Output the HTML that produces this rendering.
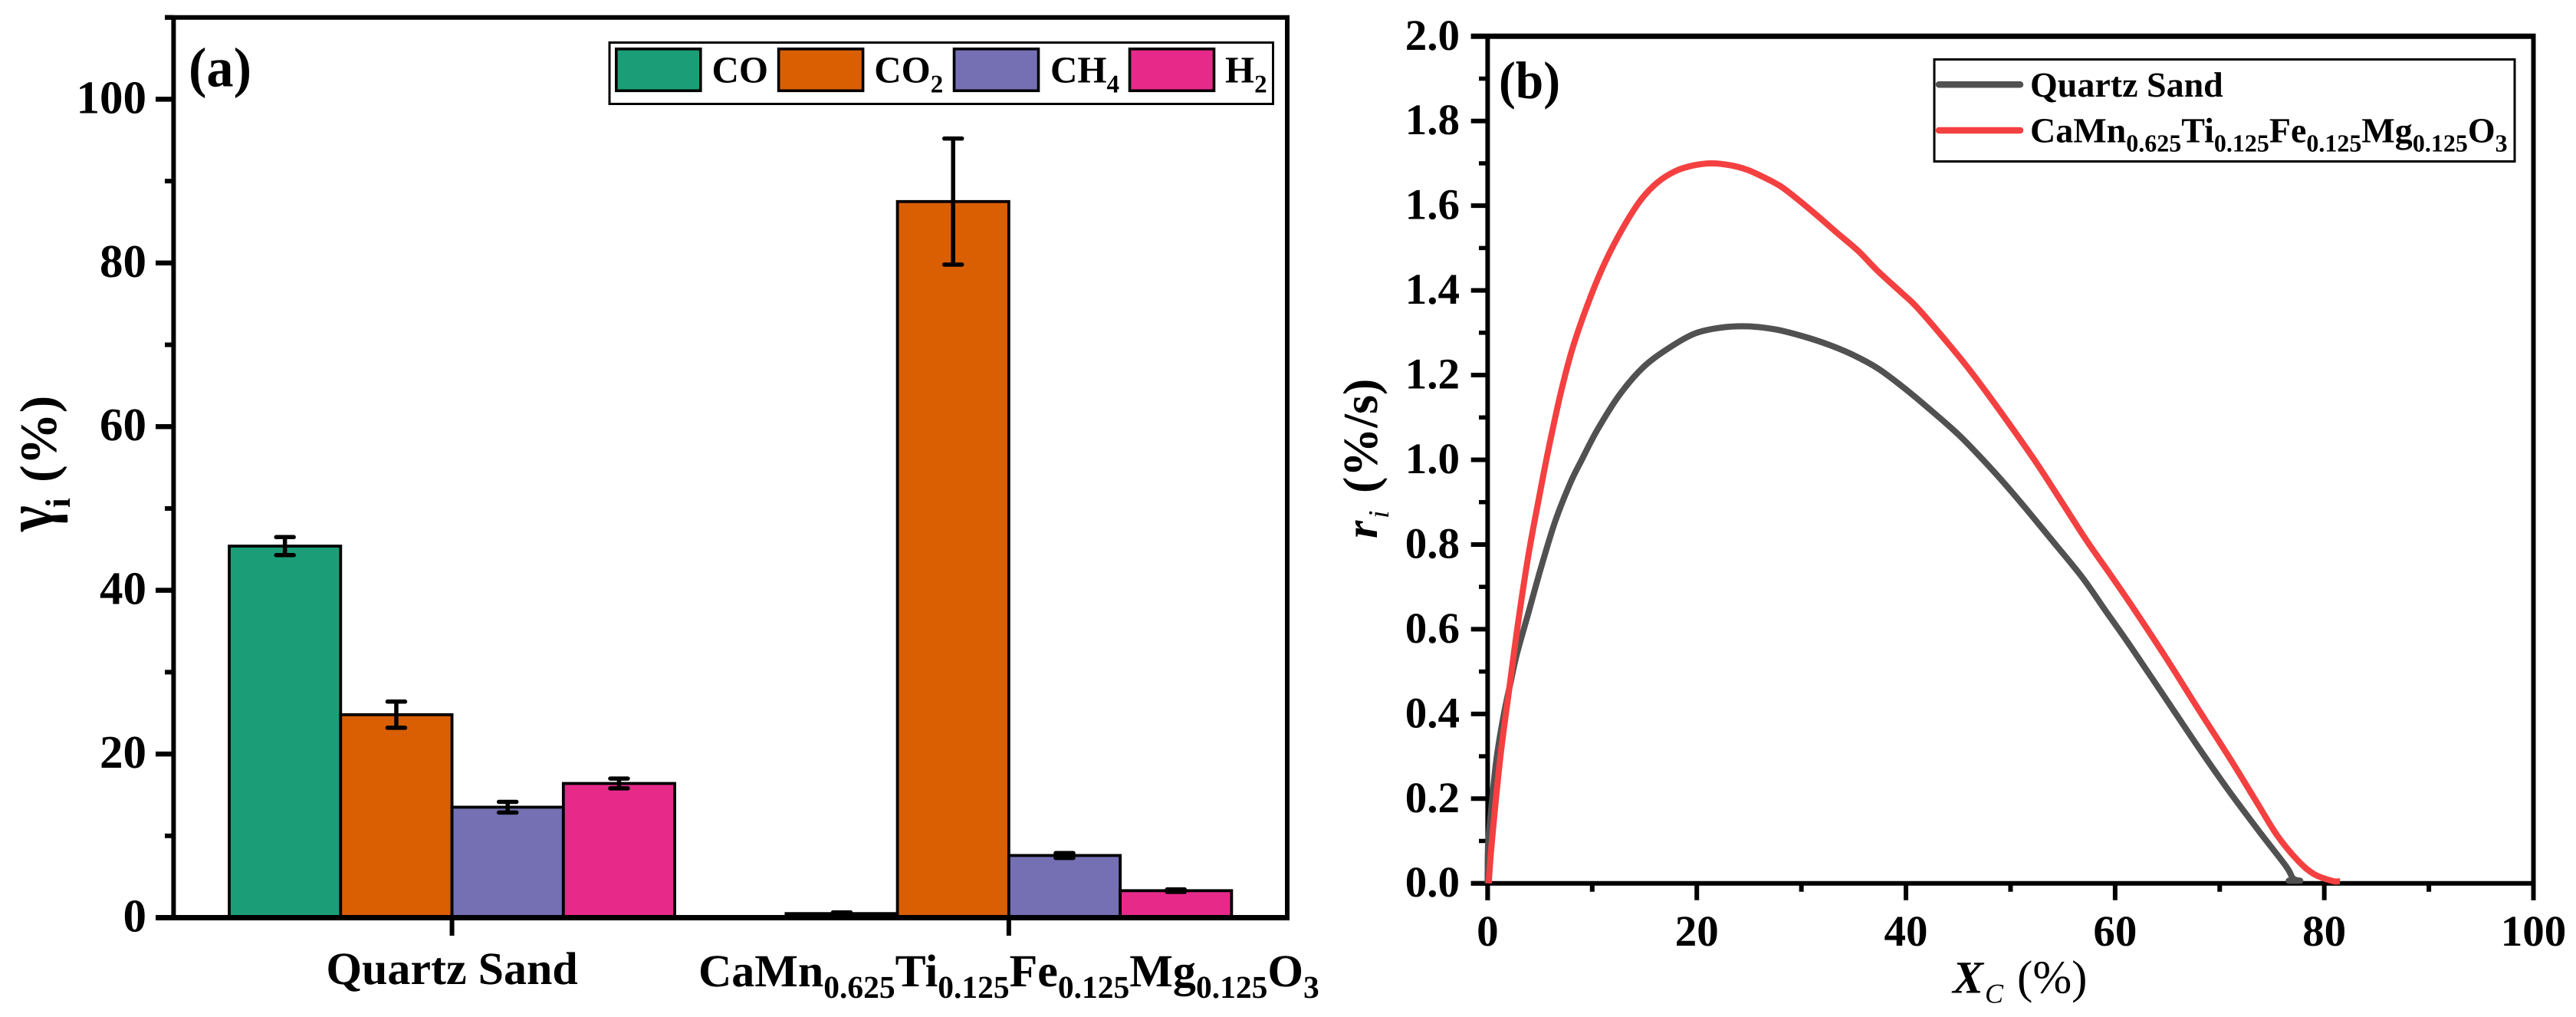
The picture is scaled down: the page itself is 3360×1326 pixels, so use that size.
<!DOCTYPE html>
<html lang="en">
<head>
<meta charset="utf-8">
<title>Gas selectivity and reaction rate charts</title>
<style>
html,body{margin:0;padding:0;background:#fff;}
svg{display:block;font-family:"Liberation Serif",serif;text-rendering:geometricPrecision;}
text{fill:#000;}
.b{font-weight:bold;}
</style>
</head>
<body>
<svg id="fig" xmlns="http://www.w3.org/2000/svg" width="3360" height="1326" viewBox="0 0 3360 1326">
  <rect x="0" y="0" width="3360" height="1326" fill="#fff"/>
  <g id="panelA"></g>
  <g id="panelB"></g>

  <text class="b" x="246" y="112.7" font-size="73" textLength="82" lengthAdjust="spacingAndGlyphs">(a)</text>
  <text class="b" x="1955" y="128" font-size="69" textLength="80" lengthAdjust="spacingAndGlyphs">(b)</text>

  <g transform="translate(73,693) rotate(-90)">
    <text class="b" transform="translate(0,-4) scale(0.95,1.2)" x="0" y="0" font-size="76">γ</text>
    <text class="b" x="31" y="18" font-size="46">i</text>
    <text class="b" x="64" y="0" font-size="68">(%)</text>
  </g>

  <g transform="translate(1796,702) rotate(-90)">
    <text class="b" font-style="italic" x="0" y="0" font-size="60">r</text>
    <text font-style="italic" x="26" y="15" font-size="38">i</text>
    <text class="b" x="59" y="0" font-size="64">(%/s)</text>
  </g>

  <g>
    <text class="b" font-style="italic" x="2547" y="1294.3" font-size="60">X</text>
    <text font-style="italic" x="2589" y="1307.7" font-size="36">C</text>
    <text x="2631" y="1294.3" font-size="61">(%)</text>
  </g>

  <g>
    <rect x="795" y="55.5" width="865.5" height="80" fill="#fff" stroke="#000" stroke-width="3"/>
    <rect x="803.8" y="63.8" width="110" height="54.5" fill="#1B9E77" stroke="#000" stroke-width="3.6"/>
    <text class="b" x="928.5" y="107.3" font-size="49">CO</text>
    <rect x="1015.6" y="63.8" width="110" height="54.5" fill="#D95F02" stroke="#000" stroke-width="3.6"/>
    <text class="b" x="1140.3" y="107.3" font-size="49">CO<tspan font-size="33" dy="13">2</tspan></text>
    <rect x="1244.5" y="63.8" width="110" height="54.5" fill="#7570B3" stroke="#000" stroke-width="3.6"/>
    <text class="b" x="1370" y="107.3" font-size="49">CH<tspan font-size="33" dy="13">4</tspan></text>
    <rect x="1473.5" y="63.8" width="110" height="54.5" fill="#E7298A" stroke="#000" stroke-width="3.6"/>
    <text class="b" x="1598" y="107.3" font-size="49">H<tspan font-size="33" dy="13">2</tspan></text>
  </g>

  <g>
    <rect x="2523" y="77.5" width="757" height="133" fill="#fff" stroke="#000" stroke-width="3"/>
    <line x1="2529" y1="110.3" x2="2635" y2="110.3" stroke="#515151" stroke-width="8.5" stroke-linecap="round"/>
    <text class="b" x="2648" y="126" font-size="46">Quartz Sand</text>
    <line x1="2529" y1="170" x2="2635" y2="170" stroke="#F44040" stroke-width="8.5" stroke-linecap="round"/>
    <text class="b" x="2648" y="185.3" font-size="46">CaMn<tspan font-size="32" dy="12">0.625</tspan><tspan dy="-12">Ti</tspan><tspan font-size="32" dy="12">0.125</tspan><tspan dy="-12">Fe</tspan><tspan font-size="32" dy="12">0.125</tspan><tspan dy="-12">Mg</tspan><tspan font-size="32" dy="12">0.125</tspan><tspan dy="-12">O</tspan><tspan font-size="32" dy="12">3</tspan></text>
  </g>
</svg>

<script>
// ---------- Panel (a) data ----------
const categoriesA = ['Quartz Sand', 'CaMn_0.625_Ti_0.125_Fe_0.125_Mg_0.125_O_3'];
const seriesNamesA = ['CO', 'CO2', 'CH4', 'H2'];
const seriesColorsA = ['#1B9E77', '#D95F02', '#7570B3', '#E7298A'];
const valuesCO = [45.4, 0.5];
const valuesCO2 = [24.8, 87.5];
const valuesCH4 = [13.5, 7.6];
const valuesH2 = [16.4, 3.3];
const errorsCO = [1.1, 0.15];
const errorsCO2 = [1.6, 7.7];
const errorsCH4 = [0.65, 0.3];
const errorsH2 = [0.6, 0.15];
const yTicksA = [0, 20, 40, 60, 80, 100];
const yMinorTicksA = [10, 30, 50, 70, 90, 110];

// ---------- Panel (b) data ----------
const quartzX = [0, 0.03, 0.17, 0.83, 1.56, 2.2, 2.78, 3.88, 5.1, 6.45, 7.9, 9, 10.5, 12.6, 14.9, 17.4, 19.8, 22.3, 24.9, 27.5, 30.1, 32.7, 35, 37.3, 39.6, 42, 45, 47.4, 49.6, 51.8, 54.2, 56.9, 59.1, 61.6, 65.6, 68.3, 70.96, 73.7, 76.35, 77, 77.7];
const quartzY = [0, 0.08, 0.13, 0.29, 0.4, 0.475, 0.54, 0.637, 0.745, 0.854, 0.945, 1.0, 1.071, 1.153, 1.219, 1.265, 1.298, 1.312, 1.315, 1.308, 1.292, 1.271, 1.247, 1.216, 1.174, 1.125, 1.06, 0.999, 0.939, 0.875, 0.803, 0.721, 0.643, 0.555, 0.408, 0.309, 0.2155, 0.125, 0.04, 0.012, 0.006];
const perovskiteX = [0.1, 0.39, 1.19, 2.05, 2.9, 3.9, 4.95, 5.86, 7.06, 8.2, 9.84, 11.3, 12.95, 14.6, 16.2, 17.9, 19.66, 21.45, 23.3, 24.9, 26.5, 28, 29.5, 31.45, 33.4, 35.4, 37.3, 39.6, 40.9, 43, 46, 49, 52.3, 54.7, 57.2, 59.6, 61.6, 64.8, 68.04, 71, 73.7, 75.5, 77.5, 79, 80.8, 81.5];
const perovskiteY = [0, 0.094, 0.293, 0.456, 0.613, 0.775, 0.915, 1.03, 1.165, 1.27, 1.385, 1.47, 1.548, 1.612, 1.654, 1.681, 1.695, 1.7, 1.695, 1.684, 1.666, 1.646, 1.618, 1.578, 1.536, 1.494, 1.446, 1.394, 1.364, 1.305, 1.215, 1.115, 0.999, 0.908, 0.812, 0.727, 0.655, 0.535, 0.408, 0.294, 0.185, 0.113, 0.053, 0.022, 0.0054, 0.005];
const yTicksB = ['0.0', '0.2', '0.4', '0.6', '0.8', '1.0', '1.2', '1.4', '1.6', '1.8', '2.0'];
const yMinorTicksB = [0.1, 0.3, 0.5, 0.7, 0.9, 1.1, 1.3, 1.5, 1.7, 1.9];
const xTicksB = [0, 20, 40, 60, 80, 100];
const xMinorTicksB = [10, 30, 50, 70, 90];

// ---------- Axis functions ----------
const xDomainA = [0.5, 2.5];
const yDomainA = [0, 110];
const xDomainB = [0, 100];
const yDomainB = [0, 2];
const BAR_WIDTH = 0.2;
function xA(v) { return 226.4 + (v - xDomainA[0]) / (xDomainA[1] - xDomainA[0]) * 1452.6; }
function yA(v) { return 1196.5 - (v - yDomainA[0]) / (yDomainA[1] - yDomainA[0]) * 1173.8; }
function xB(v) { return 1940.4 + (v - xDomainB[0]) / (xDomainB[1] - xDomainB[0]) * 1364.1; }
function yB(v) { return 1151.7 - (v - yDomainB[0]) / (yDomainB[1] - yDomainB[0]) * 1104.4; }

const NS = 'http://www.w3.org/2000/svg';
const panelA = document.getElementById('panelA');
const panelB = document.getElementById('panelB');

function drawLine(parent, name, x1, y1, x2, y2, w, cap) {
  const l = document.createElementNS(NS, 'line');
  
  
  l.setAttribute('x1', x1);
  l.setAttribute('y1', y1);
  l.setAttribute('x2', x2);
  l.setAttribute('y2', y2);
  l.setAttribute('stroke', '#000');
  l.setAttribute('stroke-width', w);
  l.setAttribute('stroke-linecap', cap || 'butt');
  parent.appendChild(l);
  return l;
}

function drawLabel(parent, name, txt, x, y, size, anchor, bold) {
  const t = document.createElementNS(NS, 'text');
  
  
  t.setAttribute('x', x);
  t.setAttribute('y', y);
  t.setAttribute('font-size', size);
  t.setAttribute('text-anchor', anchor);
  t.setAttribute('font-weight', bold ? 'bold' : 'normal');
  t.textContent = txt;
  parent.appendChild(t);
  return t;
}

function drawCategory(parent, index, baseline) {
  const t = document.createElementNS(NS, 'text');
  
  
  t.setAttribute('x', xA(index + 1));
  t.setAttribute('y', baseline);
  t.setAttribute('font-size', 60);
  t.setAttribute('font-weight', 'bold');
  t.setAttribute('text-anchor', 'middle');
  const parts = categoriesA[index].split('_');
  let shifted = false;
  parts.forEach(function (part, k) {
    const s = document.createElementNS(NS, 'tspan');
    const isSub = k % 2 === 1;
    if (isSub) { s.setAttribute('font-size', 41.5); }
    if (isSub && !shifted) { s.setAttribute('dy', 15); shifted = true; }
    else if (!isSub && shifted) { s.setAttribute('dy', -15); shifted = false; }
    s.textContent = part;
    t.appendChild(s);
  });
  parent.appendChild(t);
}

// ---------- Panel (a) ----------
const allValuesA = [valuesCO, valuesCO2, valuesCH4, valuesH2];
const allErrorsA = [errorsCO, errorsCO2, errorsCH4, errorsH2];

allValuesA.forEach(function (vals, s) {
  vals.forEach(function (v, c) {
    const left = (c + 1) - 2 * BAR_WIDTH + s * BAR_WIDTH;
    const rect = document.createElementNS(NS, 'rect');
    
    
    rect.setAttribute('x', xA(left));
    rect.setAttribute('y', yA(v));
    rect.setAttribute('width', xA(left + BAR_WIDTH) - xA(left));
    rect.setAttribute('height', yA(0) - yA(v));
    rect.setAttribute('fill', seriesColorsA[s]);
    rect.setAttribute('stroke', '#000');
    rect.setAttribute('stroke-width', 3.8);
    panelA.appendChild(rect);
  });
});

allValuesA.forEach(function (vals, s) {
  vals.forEach(function (v, c) {
    const mid = xA((c + 1) - 2 * BAR_WIDTH + s * BAR_WIDTH + BAR_WIDTH / 2);
    const e = allErrorsA[s][c];
    drawLine(panelA, 'error-stem-' + seriesNamesA[s].toLowerCase() + '-' + c, mid, yA(v + e), mid, yA(v - e), 5.5);
    drawLine(panelA, 'error-cap-top-' + seriesNamesA[s].toLowerCase() + '-' + c, mid - 11.5, yA(v + e), mid + 11.5, yA(v + e), 5.5, 'round');
    drawLine(panelA, 'error-cap-bottom-' + seriesNamesA[s].toLowerCase() + '-' + c, mid - 11.5, yA(v - e), mid + 11.5, yA(v - e), 5.5, 'round');
  });
});

drawLine(panelA, 'axis-left-a', xA(0.5), 20, xA(0.5), 1200, 6);
drawLine(panelA, 'axis-right-a', xA(2.5), 20, xA(2.5), 1200, 6);
drawLine(panelA, 'axis-top-a', 215, yA(110), 1682, yA(110), 6);
drawLine(panelA, 'axis-bottom-a', 203, yA(0), 1682, yA(0), 7);

yTicksA.forEach(function (v) {
  drawLine(panelA, 'y-tick-a-' + v, 203, yA(v), xA(0.5), yA(v), 6.5);
  drawLabel(panelA, 'y-tick-label-a-' + v, String(v), 191, yA(v) + 18, 61, 'end', true);
});
yMinorTicksA.forEach(function (v) {
  drawLine(panelA, 'y-minor-tick-a-' + v, 215, yA(v), xA(0.5), yA(v), 6);
});
categoriesA.forEach(function (c, i) {
  drawLine(panelA, 'x-tick-a-' + i, xA(i + 1), yA(0), xA(i + 1), 1220, 6);
});
drawCategory(panelA, 0, 1283);
drawCategory(panelA, 1, 1286);

// ---------- Panel (b) ----------
drawLine(panelB, 'axis-left-b', xB(0), 44, xB(0), 1173.7, 6);
drawLine(panelB, 'axis-right-b', xB(100), 44, xB(100), 1173.7, 6);
drawLine(panelB, 'axis-top-b', 1918.7, yB(2), 3307.5, yB(2), 7);
drawLine(panelB, 'axis-bottom-b', 1918.7, yB(0), 3307.5, yB(0), 6);

yTicksB.forEach(function (s) {
  const v = parseFloat(s);
  drawLine(panelB, 'y-tick-b-' + s, 1918.7, yB(v), xB(0), yB(v), 6);
  drawLabel(panelB, 'y-tick-label-b-' + s, s, 1904, yB(v) + 17.5, 57, 'end', true);
});
yMinorTicksB.forEach(function (v) {
  drawLine(panelB, 'y-minor-tick-b-' + v, 1929, yB(v), xB(0), yB(v), 5.5);
});
xTicksB.forEach(function (v) {
  drawLine(panelB, 'x-tick-b-' + v, xB(v), yB(0), xB(v), 1173.7, 6);
  drawLabel(panelB, 'x-tick-label-b-' + v, String(v), xB(v), 1233, 57, 'middle', true);
});
xMinorTicksB.forEach(function (v) {
  drawLine(panelB, 'x-minor-tick-b-' + v, xB(v), yB(0), xB(v), 1162.7, 6);
});

function smoothPath(xs, ys) {
  const px = xs.map(xB);
  const py = ys.map(yB);
  let d = 'M' + px[0].toFixed(2) + ' ' + py[0].toFixed(2);
  for (let i = 0; i < px.length - 1; i++) {
    const a = Math.max(i - 1, 0);
    const b = Math.min(i + 2, px.length - 1);
    const c1x = px[i] + (px[i + 1] - px[a]) / 6;
    const c1y = py[i] + (py[i + 1] - py[a]) / 6;
    const c2x = px[i + 1] - (px[b] - px[i]) / 6;
    const c2y = py[i + 1] - (py[b] - py[i]) / 6;
    d += 'C' + c1x.toFixed(2) + ' ' + c1y.toFixed(2) + ' ' + c2x.toFixed(2) + ' ' + c2y.toFixed(2) + ' ' + px[i + 1].toFixed(2) + ' ' + py[i + 1].toFixed(2);
  }
  return d;
}

function drawCurve(name, xs, ys, color) {
  const p = document.createElementNS(NS, 'path');
  
  
  p.setAttribute('d', smoothPath(xs, ys));
  p.setAttribute('fill', 'none');
  p.setAttribute('stroke', color);
  p.setAttribute('stroke-width', 8);
  p.setAttribute('stroke-linejoin', 'round');
  p.setAttribute('stroke-linecap', 'butt');
  panelB.appendChild(p);
}
drawCurve('curve-quartz-sand', quartzX, quartzY, '#515151');
drawCurve('curve-perovskite', perovskiteX, perovskiteY, '#F44040');

// Flat end of the quartz sand curve resting on the x axis
const quartzEnd = drawLine(panelB, 'curve-quartz-sand-end', xB(76.6), yB(0.006), xB(77.7), yB(0.006), 8, 'round');
quartzEnd.setAttribute('stroke', '#515151');
</script>
</body>
</html>
